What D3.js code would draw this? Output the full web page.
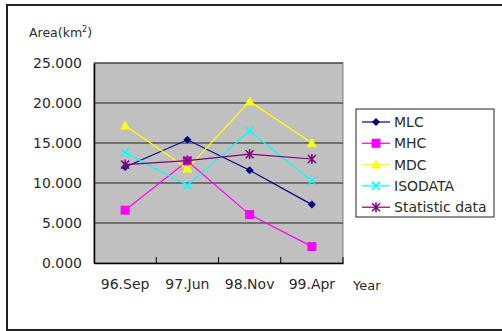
<!DOCTYPE html>
<html><head><meta charset="utf-8">
<script src="https://cdn.jsdelivr.net/npm/d3@7"></script>
<style>body{margin:0;background:#fff}svg{display:block;font-family:"DejaVu Sans",sans-serif}</style>
</head><body>
<script>
const categories = ["96.Sep","97.Jun","98.Nov","99.Apr"];
const yTicks = [0,5000,10000,15000,20000,25000];
const MLC = [12000,15400,11600,7300];
const MHC = [6600,12750,6050,2050];
const MDC = [17200,11800,20200,15000];
const ISODATA = [13800,9700,16500,10250];
const Statistic = [12300,12800,13600,13000];
const seriesNames = ["MLC","MHC","MDC","ISODATA","Statistic data"];
const seriesValues = [MLC,MHC,MDC,ISODATA,Statistic];
const colors = ["#000080","#ff00ff","#ffff00","#00ffff","#800080"];
const markers = ["diamond","square","triangle","x","star"];

const W=502,H=331;
const FONT="DejaVu Sans, sans-serif";
const TXT="#2a2a2a";
const svg=d3.select("body").append("svg").attr("width",W).attr("height",H);
svg.append("rect").attr("x",7).attr("y",5).attr("width",W).attr("height",325)
  .attr("fill","#fff").attr("stroke","#222").attr("stroke-width",2);

const L=94,R=343,T=63,B=263;
const x=d3.scaleBand().domain(categories).range([L,R]);
const y=d3.scaleLinear().domain([0,25000]).range([B,T]);

svg.append("rect").attr("x",L).attr("y",T).attr("width",R-L).attr("height",B-T)
  .attr("fill","#c0c0c0").attr("stroke","#808080");

svg.append("g").selectAll("line").data(yTicks.filter(d=>d>0)).join("line")
  .attr("x1",L).attr("x2",R).attr("y1",d=>y(d)).attr("y2",d=>y(d))
  .attr("stroke","#222").attr("stroke-width",1);

const ya=svg.append("g").attr("transform",`translate(${L},0)`)
  .call(d3.axisLeft(y).tickValues(yTicks).tickSize(0).tickPadding(12).tickFormat(d=>(d/1000).toFixed(3)));
ya.select(".domain").attr("stroke","#000").attr("stroke-width",1.5);
ya.selectAll("text").attr("font-size",14).attr("fill",TXT).attr("font-family",FONT);

const xa=svg.append("g").attr("transform",`translate(0,${B})`)
  .call(d3.axisBottom(x).tickSizeOuter(0).tickSizeInner(0).tickPadding(16));
xa.select(".domain").attr("stroke","#000").attr("stroke-width",1.5);
xa.selectAll("text").attr("font-size",14).attr("fill",TXT).attr("font-family",FONT);
svg.append("g").selectAll("line").data([1,2,3,4]).join("line")
  .attr("x1",i=>i<4?x(categories[i]):R).attr("x2",i=>i<4?x(categories[i]):R)
  .attr("y1",B).attr("y2",B-6).attr("stroke","#000");

const at=svg.append("text").attr("x",29).attr("y",37).attr("font-size",12.5).attr("fill",TXT).attr("font-family",FONT);
at.append("tspan").text("Area(km");
at.append("tspan").attr("dy",-5).attr("font-size",8).text("2");
at.append("tspan").attr("dy",5).text(")");
svg.append("text").attr("x",353).attr("y",290).attr("font-size",13).attr("fill",TXT).attr("font-family",FONT).text("Year");

function drawMarker(g,type,color,cx,cy){
  if(type==="diamond") g.append("path").attr("d",`M${cx},${cy-4}L${cx+4},${cy}L${cx},${cy+4}L${cx-4},${cy}Z`).attr("fill",color);
  else if(type==="square") g.append("rect").attr("x",cx-4.5).attr("y",cy-4.5).attr("width",9).attr("height",9).attr("fill",color);
  else if(type==="triangle") g.append("path").attr("d",`M${cx},${cy-5}L${cx+5},${cy+4}L${cx-5},${cy+4}Z`).attr("fill",color);
  else if(type==="x") g.append("path").attr("d",`M${cx-4},${cy-4}L${cx+4},${cy+4}M${cx+4},${cy-4}L${cx-4},${cy+4}`).attr("stroke",color).attr("stroke-width",1.5);
  else if(type==="star") g.append("path").attr("d",`M${cx-4},${cy-4}L${cx+4},${cy+4}M${cx+4},${cy-4}L${cx-4},${cy+4}M${cx},${cy-5}L${cx},${cy+5}`).attr("stroke",color).attr("stroke-width",1.5);
}

const line=d3.line().x((d,i)=>x(categories[i])+x.bandwidth()/2).y(d=>y(d));
seriesValues.forEach((vals,k)=>{
  const g=svg.append("g");
  g.append("path").attr("d",line(vals)).attr("fill","none").attr("stroke",colors[k]).attr("stroke-width",1.2);
  vals.forEach((v,i)=>drawMarker(g,markers[k],colors[k],x(categories[i])+x.bandwidth()/2,y(v)));
});

const lg=svg.append("g");
lg.append("rect").attr("x",356).attr("y",109).attr("width",138).attr("height",108)
  .attr("fill","#fff").attr("stroke","#222").attr("stroke-width",1);
seriesNames.forEach((n,k)=>{
  const cy=122+k*21.3;
  lg.append("line").attr("x1",362).attr("x2",390).attr("y1",cy).attr("y2",cy).attr("stroke",colors[k]).attr("stroke-width",1.2);
  drawMarker(lg,markers[k],colors[k],376,cy);
  lg.append("text").attr("x",394).attr("y",cy+5).attr("font-size",14).attr("fill",TXT).attr("font-family",FONT).text(n);
});
</script>
</body></html>
